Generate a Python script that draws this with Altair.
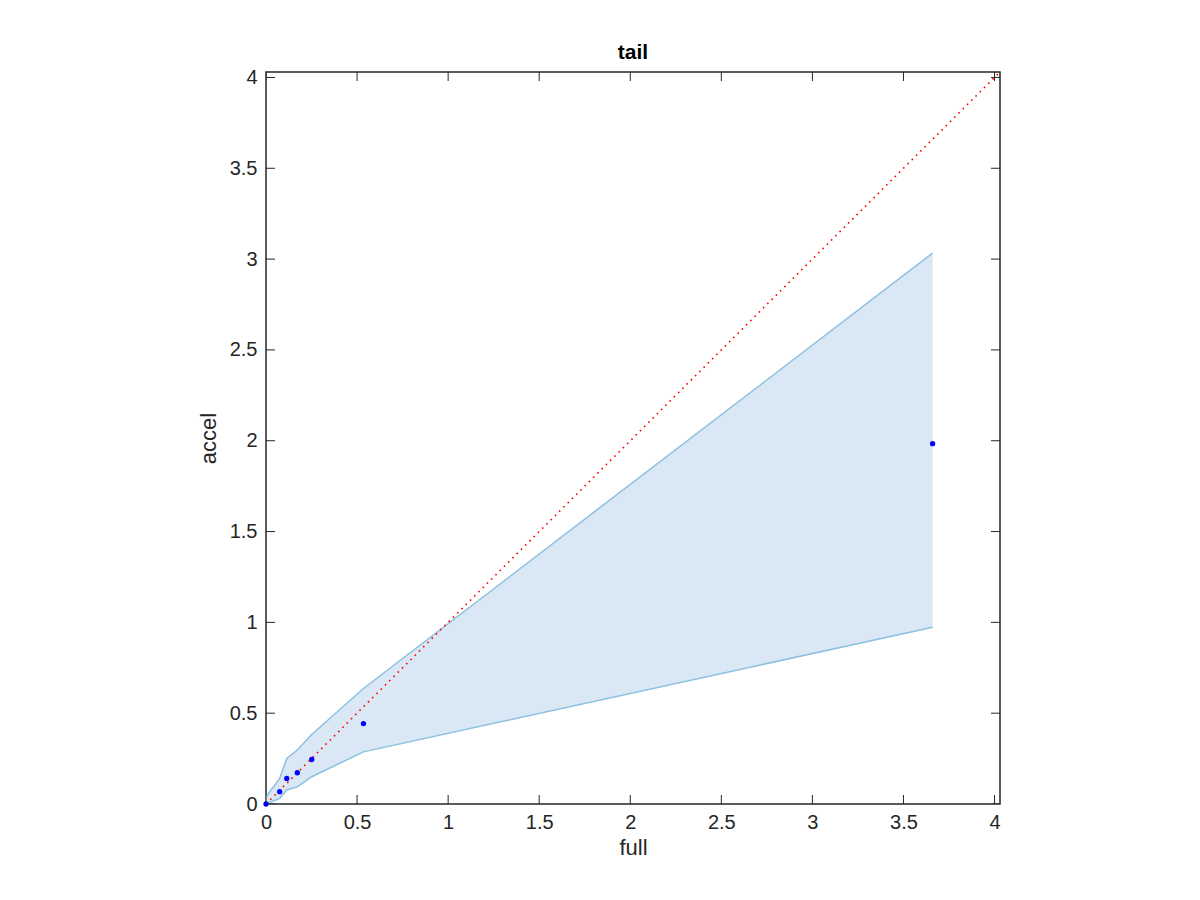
import altair as alt
import pandas as pd

# data
full = [0.0, 0.075, 0.114, 0.172, 0.251, 0.535, 3.66]
accel = [0.0, 0.068, 0.141, 0.172, 0.245, 0.443, 1.984]
upper = [0.04, 0.141, 0.251, 0.297, 0.383, 0.636, 3.033]
lower = [0.0, 0.031, 0.077, 0.095, 0.150, 0.287, 0.973]
diag = [0.0, 4.03]
tick_vals = [0, 0.5, 1, 1.5, 2, 2.5, 3, 3.5, 4]
axis_max = 4.03

df = pd.DataFrame({"full": full, "accel": accel, "upper": upper, "lower": lower})
ddf = pd.DataFrame({"full": diag, "accel": diag})
tdf = pd.DataFrame({"v": tick_vals, "lo": [0.0] * len(tick_vals), "hi": [axis_max] * len(tick_vals)})

AX = "#262626"
FONT = "Liberation Sans"

xs = alt.Scale(domain=[0, axis_max], nice=False, zero=False)
ys = alt.Scale(domain=[0, axis_max], nice=False, zero=False)

xaxis = alt.Axis(values=tick_vals, ticks=False, domain=False, grid=False, labelPadding=8,
                 title="full", titlePadding=5, labelFlush=False, format="~g")
yaxis = alt.Axis(values=tick_vals, ticks=False, domain=False, grid=False, labelPadding=9,
                 title="accel", titlePadding=9, labelFlush=False, format="~g")

band = alt.Chart(df).mark_area(color="#d9e8f4", opacity=1).encode(
    x=alt.X("full:Q", scale=xs, axis=xaxis),
    y=alt.Y("lower:Q", scale=ys, axis=yaxis),
    y2="upper:Q",
)
up_line = alt.Chart(df).mark_line(color="#8cc0e0", strokeWidth=1.5).encode(
    x=alt.X("full:Q", scale=xs), y=alt.Y("upper:Q", scale=ys))
lo_line = alt.Chart(df).mark_line(color="#8cc0e0", strokeWidth=1.5).encode(
    x=alt.X("full:Q", scale=xs), y=alt.Y("lower:Q", scale=ys))
diag_line = alt.Chart(ddf).mark_line(color="#ff0000", strokeWidth=1.6, strokeDash=[1.6, 4.4]).encode(
    x=alt.X("full:Q", scale=xs), y=alt.Y("accel:Q", scale=ys))
pts = alt.Chart(df).mark_point(filled=True, color="#0000ff", size=28, opacity=1, shape="circle").encode(
    x=alt.X("full:Q", scale=xs), y=alt.Y("accel:Q", scale=ys))

tick_len = 18
tb = alt.Chart(tdf).mark_tick(color=AX, size=tick_len, thickness=1, orient="vertical", clip=True, opacity=1).encode(
    x=alt.X("v:Q", scale=xs), y=alt.Y("lo:Q", scale=ys))
tt = alt.Chart(tdf).mark_tick(color=AX, size=tick_len, thickness=1, orient="vertical", clip=True, opacity=1).encode(
    x=alt.X("v:Q", scale=xs), y=alt.Y("hi:Q", scale=ys))
tl = alt.Chart(tdf).mark_tick(color=AX, size=tick_len, thickness=1, orient="horizontal", clip=True, opacity=1).encode(
    x=alt.X("lo:Q", scale=xs), y=alt.Y("v:Q", scale=ys))
tr = alt.Chart(tdf).mark_tick(color=AX, size=tick_len, thickness=1, orient="horizontal", clip=True, opacity=1).encode(
    x=alt.X("hi:Q", scale=xs), y=alt.Y("v:Q", scale=ys))

chart = alt.layer(band, up_line, lo_line, diag_line, pts, tb, tt, tl, tr).properties(
    width=734, height=732,
    title=alt.TitleParams("tail", font=FONT, fontSize=21, fontWeight="bold", color="#000000", offset=4),
    autosize=alt.AutoSizeParams(type="none"),
    padding={"left": 258, "top": 64, "right": 190, "bottom": 96},
    background="white",
).configure_view(stroke=AX, strokeWidth=1.5).configure_axis(
    labelFont=FONT, labelFontSize=20, labelColor=AX, titleFont=FONT, titleFontSize=22,
    titleColor=AX, titleFontWeight="normal",
)

chart.save("out.html", embed_options={"renderer": "svg", "actions": False})
